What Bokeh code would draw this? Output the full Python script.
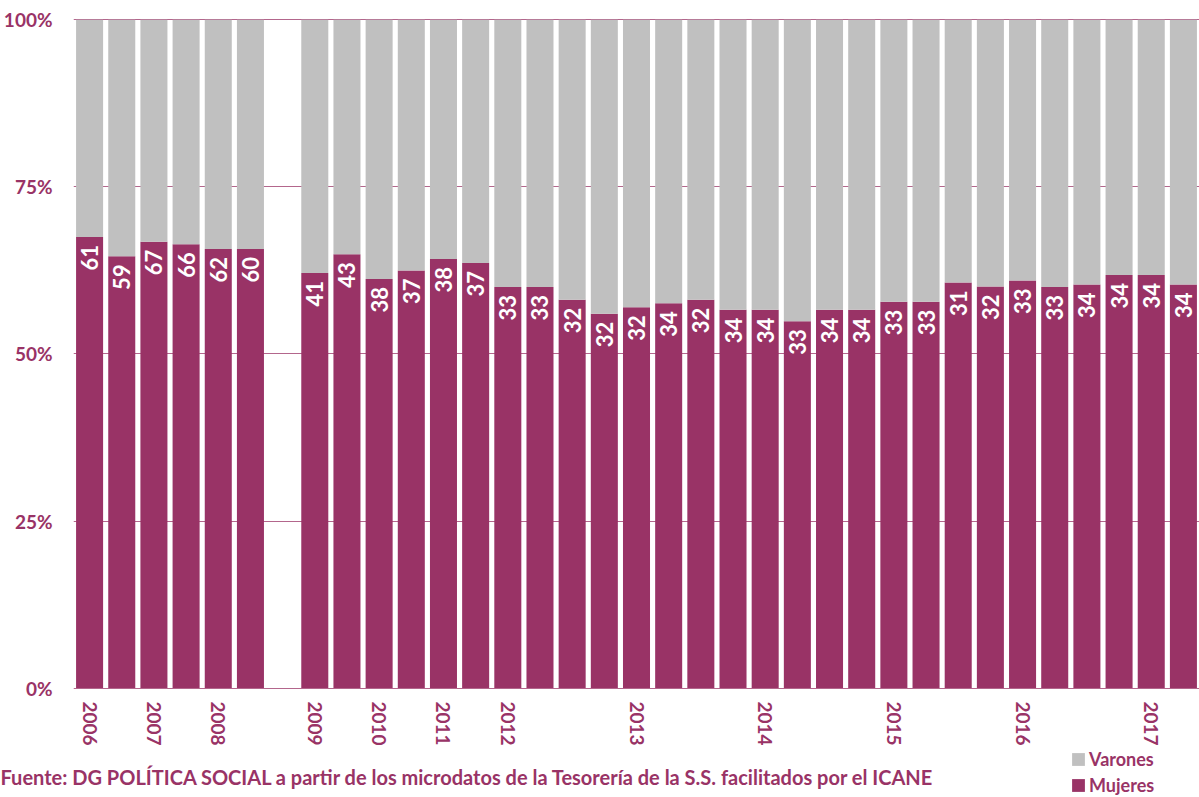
import json
from math import pi
from bokeh.plotting import figure
from bokeh.layouts import column
from bokeh.models import (ColumnDataSource, FactorRange, Range1d, FixedTicker,
                          CustomJSTickFormatter, PrintfTickFormatter, Legend,
                          LegendItem, Label)
from bokeh.core.properties import value
from bokeh.embed import file_html
from bokeh.resources import INLINE

PURPLE = "#993366"
GRAY = "#C0C0C0"
FONT = "Lato"

# periods (semesters 2006-2011, quarters 2012-2017); " " is the empty slot
periods = ["2006-S1", "2006-S2", "2007-S1", "2007-S2", "2008-S1", "2008-S2", " ",
           "2009-S1", "2009-S2", "2010-S1", "2010-S2", "2011-S1", "2011-S2",
           "2012-T1", "2012-T2", "2012-T3", "2012-T4",
           "2013-T1", "2013-T2", "2013-T3", "2013-T4",
           "2014-T1", "2014-T2", "2014-T3", "2014-T4",
           "2015-T1", "2015-T2", "2015-T3", "2015-T4",
           "2016-T1", "2016-T2", "2016-T3", "2016-T4",
           "2017-T1", "2017-T2"]
bar_periods = [p for p in periods if p.strip()]

mujeres = [67.5, 64.6, 66.8, 66.4, 65.7, 65.7,
           62.1, 64.9, 61.2, 62.5, 64.2, 63.6,
           60.0, 60.0, 58.1, 56.0, 57.0, 57.6, 58.1, 56.6,
           56.6, 54.9, 56.6, 56.6, 57.8, 57.8, 60.7, 60.1,
           61.0, 60.0, 60.4, 61.8, 61.8, 60.4]
varones = [32.5, 35.4, 33.2, 33.6, 34.3, 34.3,
           37.9, 35.1, 38.8, 37.5, 35.8, 36.4,
           40.0, 40.0, 41.9, 44.0, 43.0, 42.4, 41.9, 43.4,
           43.4, 45.1, 43.4, 43.4, 42.2, 42.2, 39.3, 39.9,
           39.0, 40.0, 39.6, 38.2, 38.2, 39.6]
etiquetas = ["61", "59", "67", "66", "62", "60",
             "41", "43", "38", "37", "38", "37",
             "33", "33", "32", "32", "32", "34", "32", "34",
             "34", "33", "34", "34", "33", "33", "31", "32",
             "33", "33", "34", "34", "34", "34"]
year_labels = {"2006-S1": "2006", "2007-S1": "2007", "2008-S1": "2008",
               "2009-S1": "2009", "2010-S1": "2010", "2011-S1": "2011",
               "2012-T1": "2012", "2013-T1": "2013", "2014-T1": "2014",
               "2015-T1": "2015", "2016-T1": "2016", "2017-T1": "2017"}
y_ticks = [0, 25, 50, 75, 100]
fuente = ("Fuente: DG POLÍTICA SOCIAL a partir de los microdatos de la Tesorería "
          "de la S.S. facilitados por el ICANE")

src = ColumnDataSource(dict(period=bar_periods, muj=mujeres, var=varones, lab=etiquetas))

p = figure(width=1199, height=748, x_range=FactorRange(*periods),
           y_range=Range1d(-0.21, 100.19), output_backend="svg", toolbar_location=None,
           min_border_left=73, min_border_right=0, min_border_top=18, min_border_bottom=58)
p.outline_line_color = None

r = p.vbar_stack(["muj", "var"], x="period", width=0.84, color=[PURPLE, GRAY],
                 line_color=None, source=src)

p.text(x="period", y="muj", text="lab", source=src, angle=pi / 2,
       text_align="right", text_baseline="middle", y_offset=8,
       text_color="white", text_font=value(FONT), text_font_style="bold",
       text_font_size="22px")

# grid
p.xgrid.grid_line_color = None
p.ygrid.grid_line_color = PURPLE
p.ygrid.grid_line_alpha = 0.75
p.ygrid.ticker = FixedTicker(ticks=y_ticks)

# y axis
p.yaxis.ticker = FixedTicker(ticks=y_ticks)
p.yaxis.formatter = PrintfTickFormatter(format="%d%%")
p.yaxis.axis_line_color = None
p.yaxis.major_tick_line_color = None
p.yaxis.minor_tick_line_color = None
p.yaxis.major_label_standoff = 15
p.yaxis.major_label_text_font = FONT
p.yaxis.major_label_text_font_style = "bold"
p.yaxis.major_label_text_font_size = "19px"
p.yaxis.major_label_text_color = PURPLE

# x axis: year label at the first period of each year
p.xaxis.formatter = CustomJSTickFormatter(
    code="const m = " + json.dumps(year_labels) + "; return m[tick] || '';")
p.xaxis.axis_line_color = None
p.xaxis.major_tick_line_color = None
p.xaxis.minor_tick_line_color = None
p.xaxis.major_label_orientation = "vertical"
p.xaxis.major_label_standoff = 6
p.xaxis.major_label_text_font = FONT
p.xaxis.major_label_text_font_style = "bold"
p.xaxis.major_label_text_font_size = "19px"
p.xaxis.major_label_text_color = PURPLE

# footer with source and legend
foot = figure(width=1199, height=49, x_range=Range1d(0, 1199), y_range=Range1d(0, 49),
              output_backend="svg", toolbar_location=None, x_axis_location=None,
              y_axis_location=None, min_border=0)
foot.outline_line_color = None
foot.xgrid.visible = False
foot.ygrid.visible = False
for fig in (p, foot):
    try:
        fig.frame_align = False
    except Exception:
        pass

# zero-size renderers that only serve as legend keys
key = ColumnDataSource(dict(x=[0], top=[0]))
rv = foot.vbar(x="x", top="top", width=0, fill_color=GRAY, line_color=None, source=key)
rm = foot.vbar(x="x", top="top", width=0, fill_color=PURPLE, line_color=None, source=key)

legend = Legend(items=[LegendItem(label="Varones", renderers=[rv]),
                       LegendItem(label="Mujeres", renderers=[rm])],
                location=(1070, 1), orientation="vertical",
                padding=0, margin=0, spacing=4, glyph_width=16, glyph_height=16,
                label_standoff=3, label_height=20, label_text_font=FONT,
                label_text_font_style="bold", label_text_font_size="18px",
                label_text_color=PURPLE, border_line_color=None,
                background_fill_alpha=0)
foot.add_layout(legend, "center")

src_label = Label(x=0, y=21, x_units="screen", y_units="screen", text=fuente,
                  text_font=FONT, text_font_style="bold", text_font_size="20px",
                  text_color=PURPLE, text_baseline="middle")
foot.add_layout(src_label)

layout = column(p, foot, spacing=0)
open("out.html", "w").write(file_html(layout, INLINE))
